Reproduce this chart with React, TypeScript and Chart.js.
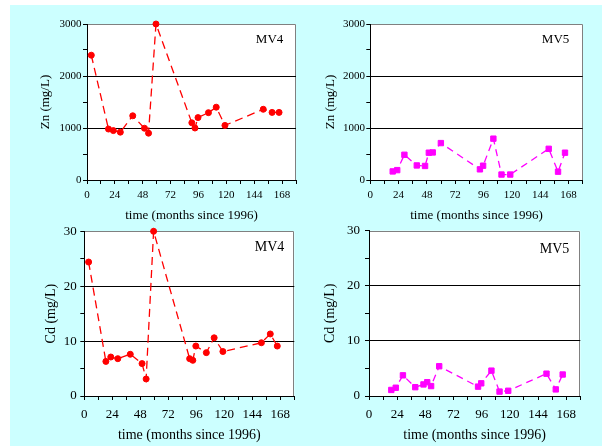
import React, { useEffect, useRef } from "react";
import { Chart, registerables } from "chart.js";

Chart.register(...registerables);

// ---- data ----
const mv4Months = [3.7, 18.5, 22.7, 28.7, 39.4, 49.5, 53, 59.4, 90.3, 93, 95.6, 104.6, 111.3, 118.8, 151.8, 159.4, 165.4];
const mv4Zn = [2400, 980, 950, 920, 1235, 995, 900, 3000, 1100, 1000, 1200, 1295, 1400, 1050, 1360, 1300, 1300];
const mv4Cd = [24.4, 6.3, 7.1, 6.8, 7.6, 5.9, 3.1, 30, 6.8, 6.5, 9.1, 7.9, 10.6, 8.1, 9.7, 11.3, 9.1];

const mv5Months = [19, 22.8, 28.9, 39.4, 46.4, 49.6, 52.9, 59.8, 92.9, 95.6, 104.3, 111.2, 118.6, 151.2, 159.1, 165];
const mv5Zn = [165, 190, 485, 280, 270, 525, 530, 710, 205, 275, 795, 105, 105, 600, 160, 525];
const mv5Cd = [1.1, 1.5, 3.75, 1.6, 2.1, 2.5, 1.8, 5.4, 1.7, 2.3, 4.6, 0.8, 0.95, 4.05, 1.2, 3.9];

const xTickValues = [0, 12, 24, 36, 48, 60, 72, 84, 96, 108, 120, 132, 144, 156, 168, 180];
const xLabelValues = [0, 24, 48, 72, 96, 120, 144, 168];
const znTickValues = [0, 500, 1000, 1500, 2000, 2500, 3000];
const znLabelValues = [0, 1000, 2000, 3000];
const znGridValues = [1000, 2000];
const cdTickValues = [0, 5, 10, 15, 20, 25, 30];
const cdLabelValues = [0, 10, 20, 30];
const cdGridValues = [10, 20];

const FONT = '"Liberation Serif", "Times New Roman", serif';

type Panel = {
  left: number; top: number; width: number; height: number;
  padTop: number; padRight: number; padBottom: number;
  yWidth: number; xHeight: number; yTitlePad: number;
  tickSize: number; titleSize: number; yTickPad: number; xTickPad: number;
  months: number[]; values: number[]; color: string; pointStyle: string;
  radius: number; dash: number[]; yTitle: string; yMax: number;
  yTicks: number[]; yLabels: number[]; yGrid: number[];
  tag: string; tagRight: number; tagY: number;
};

const panels: Panel[] = [
  {
    left: 10, top: 5, width: 291, height: 220,
    padTop: 19, padRight: 2.3, padBottom: 2, yWidth: 77, xHeight: 43, yTitlePad: 27.7,
    tickSize: 11, titleSize: 13, yTickPad: 1.5, xTickPad: 4.4,
    months: mv4Months, values: mv4Zn, color: "#ff0000", pointStyle: "circle", radius: 3, dash: [8, 5],
    yTitle: "Zn (mg/L)", yMax: 3000, yTicks: znTickValues, yLabels: znLabelValues, yGrid: znGridValues,
    tag: "MV4", tagRight: 12.7, tagY: 15.5,
  },
  {
    left: 301, top: 5, width: 301, height: 220,
    padTop: 19, padRight: 19.3, padBottom: 2, yWidth: 69.3, xHeight: 43, yTitlePad: 22.2,
    tickSize: 11, titleSize: 13, yTickPad: 1.3, xTickPad: 4.4,
    months: mv5Months, values: mv5Zn, color: "#ff00ff", pointStyle: "rect", radius: 3.8, dash: [7, 5],
    yTitle: "Zn (mg/L)", yMax: 3000, yTicks: znTickValues, yLabels: znLabelValues, yGrid: znGridValues,
    tag: "MV5", tagRight: 13.4, tagY: 15.5,
  },
  {
    left: 10, top: 215, width: 291, height: 231,
    padTop: 16.3, padRight: 0.3, padBottom: 2, yWidth: 74.3, xHeight: 48, yTitlePad: 32.6,
    tickSize: 13, titleSize: 14, yTickPad: 3.6, xTickPad: 6.7,
    months: mv4Months, values: mv4Cd, color: "#ff0000", pointStyle: "circle", radius: 3, dash: [8, 5],
    yTitle: "Cd (mg/L)", yMax: 30, yTicks: cdTickValues, yLabels: cdLabelValues, yGrid: cdGridValues,
    tag: "MV4", tagRight: 10, tagY: 16,
  },
  {
    left: 301, top: 215, width: 301, height: 231,
    padTop: 15.7, padRight: 21.7, padBottom: 2, yWidth: 68, xHeight: 48, yTitlePad: 21.1,
    tickSize: 13, titleSize: 14, yTickPad: 5, xTickPad: 6.7,
    months: mv5Months, values: mv5Cd, color: "#ff00ff", pointStyle: "rect", radius: 3.8, dash: [7, 5],
    yTitle: "Cd (mg/L)", yMax: 30, yTicks: cdTickValues, yLabels: cdLabelValues, yGrid: cdGridValues,
    tag: "MV5", tagRight: 11, tagY: 18.3,
  },
];

const framePlugin = {
  id: "frame",
  beforeDraw(chart: any, _args: any, opts: any) {
    const { ctx, chartArea: a } = chart;
    ctx.save();
    ctx.fillStyle = "#ffffff";
    ctx.fillRect(a.left, a.top, a.right - a.left, a.bottom - a.top);
    ctx.strokeStyle = "#808080";
    ctx.lineWidth = 1;
    ctx.beginPath();
    const t = Math.round(a.top) + 0.5;
    const r = Math.round(a.right) - 0.5;
    ctx.moveTo(Math.round(a.left), t);
    ctx.lineTo(r, t);
    ctx.lineTo(r, Math.round(a.bottom));
    ctx.stroke();
    ctx.restore();
  },
  afterDraw(chart: any, _args: any, opts: any) {
    const { ctx, chartArea: a } = chart;
    ctx.save();
    ctx.fillStyle = "#000";
    ctx.font = `${opts.size}px ${FONT}`;
    ctx.textAlign = "right";
    ctx.textBaseline = "middle";
    ctx.fillText(opts.text, a.right - opts.right, a.top + opts.y);
    ctx.restore();
  },
};

function PanelChart({ p }: { p: Panel }) {
  const ref = useRef<HTMLCanvasElement | null>(null);
  useEffect(() => {
    if (!ref.current) return;
    const chart = new Chart(ref.current, {
      type: "scatter",
      data: {
        datasets: [
          {
            data: p.months.map((m, i) => ({ x: m, y: p.values[i] })),
            showLine: true,
            borderColor: p.color,
            backgroundColor: p.color,
            borderWidth: 1.3,
            borderDash: p.dash,
            pointStyle: p.pointStyle as any,
            pointRadius: p.radius,
            pointBorderWidth: 1,
            pointBorderColor: p.color,
            pointBackgroundColor: p.color,
            clip: false as any,
          },
        ],
      },
      options: {
        animation: false,
        responsive: false,
        events: [],
        layout: { padding: { left: 0, top: p.padTop, right: p.padRight, bottom: p.padBottom } },
        plugins: {
          legend: { display: false },
          tooltip: { enabled: false },
          frame: { text: p.tag, right: p.tagRight, y: p.tagY, size: p.titleSize },
        } as any,
        scales: {
          x: {
            type: "linear",
            min: 0,
            max: 180,
            afterBuildTicks: (s: any) => {
              s.ticks = xTickValues.map((v) => ({ value: v }));
            },
            afterFit: (s: any) => {
              s.height = p.xHeight;
            },
            ticks: {
              autoSkip: false,
              maxRotation: 0,
              padding: p.xTickPad,
              color: "#000",
              font: { family: FONT, size: p.tickSize },
              callback: (v: any) => (xLabelValues.includes(Number(v)) ? String(v) : ""),
            },
            grid: { drawOnChartArea: false, color: "#000", tickColor: "#000", tickLength: 4, lineWidth: 1 },
            border: { display: true, color: "#000", width: 1 },
            title: {
              display: true,
              text: "time (months since 1996)",
              color: "#000",
              font: { family: FONT, size: p.titleSize },
              padding: { top: 0, bottom: 0 },
            },
          },
          y: {
            type: "linear",
            min: 0,
            max: p.yMax,
            afterBuildTicks: (s: any) => {
              s.ticks = p.yTicks.map((v) => ({ value: v }));
            },
            afterFit: (s: any) => {
              s.width = p.yWidth;
            },
            ticks: {
              autoSkip: false,
              padding: p.yTickPad,
              color: "#000",
              font: { family: FONT, size: p.tickSize },
              callback: (v: any) => (p.yLabels.includes(Number(v)) ? String(v) : ""),
            },
            grid: {
              color: (c: any) => (c.tick && p.yGrid.includes(c.tick.value) ? "#000" : "rgba(0,0,0,0)"),
              tickColor: "#000",
              tickLength: 4,
              lineWidth: 1,
            },
            border: { display: true, color: "#000", width: 1 },
            title: {
              display: true,
              text: p.yTitle,
              color: "#000",
              font: { family: FONT, size: p.titleSize },
              padding: { top: p.yTitlePad, bottom: 0 },
            },
          },
        },
      } as any,
      plugins: [framePlugin as any],
    });
    return () => chart.destroy();
  }, [p]);
  return (
    <canvas
      ref={ref}
      width={p.width}
      height={p.height}
      style={{ position: "absolute", left: p.left, top: p.top, width: p.width, height: p.height }}
    />
  );
}

export default function App() {
  return (
    <div style={{ position: "absolute", left: 0, top: 0, width: 602, height: 446, background: "#ffffff", overflow: "hidden" }}>
      <div style={{ position: "absolute", left: 10, top: 5, width: 592, height: 441, background: "#ccffff" }} />
      {panels.map((p, i) => (
        <PanelChart key={i} p={p} />
      ))}
    </div>
  );
}
